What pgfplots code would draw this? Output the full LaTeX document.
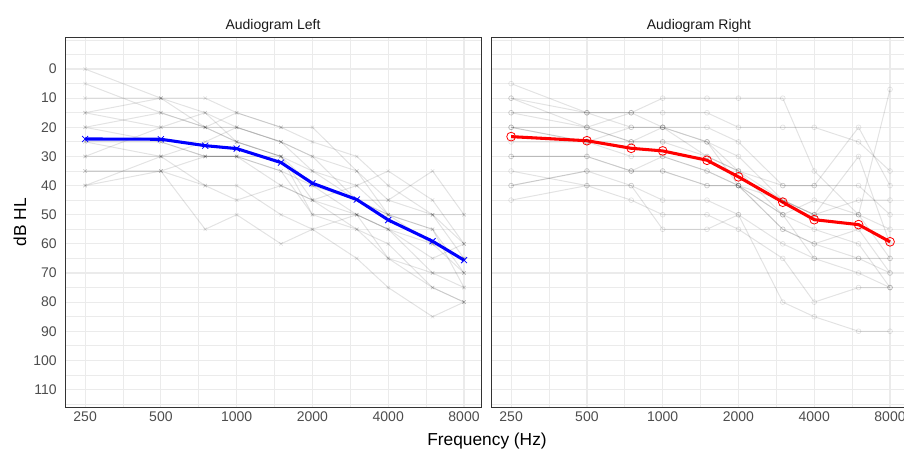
\documentclass[border=0pt]{standalone}
\usepackage{fontspec}
\setmainfont{Liberation Sans}
\usepackage{pgfplots}
\usepackage{pgfplotstable}
\pgfplotsset{compat=1.18}
\definecolor{gridc}{HTML}{EBEBEB}
\definecolor{tickc}{HTML}{4D4D4D}

\pgfplotstableread{
f    s1 s2 s3 s4 s5 s6 s7 s8 s9 s10 s11 s12 s13 s14 s15
250  0  5  10 15 20 25 30 35 40 30  20  25  35  15  40
500  10 15 10 20 25 30 30 35 30 20  15  25  35  10  35
750  15 20 10 20 30 30 40 55 25 15  20  30  40  20  30
1000 20 15 15 25 30 30 40 50 20 25  25  30  45  20  30
1500 25 20 20 30 30 40 50 60 25 30  30  35  40  25  35
2000 30 25 20 35 45 45 55 55 35 40  50  40  45  30  50
3000 35 30 35 40 50 55 65 50 45 50  50  45  40  45  55
4000 45 40 50 50 55 60 75 65 50 55  55  45  35  50  65
6000 50 50 55 60 70 75 85 70 50 60  65  35  45  55  75
8000 60 65 75 70 75 80 80 70 50 65  60  50  60  70  80
}\lefttab

\pgfplotstableread{
f    s1 s2 s3 s4 s5 s6 s7 s8 s9 s10 s11 s12 s13 s14 s15
250  5  10 15 20 20 25 30 35 40 45  30  15  20  40  10
500  15 20 15 25 20 25 30 40 35 40  30  20  25  35  15
750  15 15 20 25 25 30 35 40 40 45  35  25  20  35  15
1000 10 15 20 20 25 30 35 45 55 50  30  25  20  35  20
1500 10 15 20 25 30 35 40 45 55 50  35  25  30  40  25
2000 10 20 25 30 35 40 40 50 50 55  40  40  35  40  35
3000 10 20 40 45 50 55 50 80 60 65  45  55  40  50  45
4000 35 20 40 50 45 60 65 85 65 80  50  60  40  55  50
6000 50 25 20 45 50 65 70 90 65 75  50  55  40  60  30
8000 7  35 40 45 55 70 75 90 65 75  65  70  50  75  60
}\righttab

\pgfplotstableread{
f    m
250  24.0
500  24.1
750  26.3
1000 27.3
1500 32.1
2000 39.2
3000 44.8
4000 51.8
6000 59.1
8000 65.6
}\leftmean

\pgfplotstableread{
f    m
250  23.2
500  24.6
750  27.2
1000 28.1
1500 31.3
2000 37.0
3000 45.7
4000 51.7
6000 53.4
8000 59.3
}\rightmean

\begin{document}
\begin{tikzpicture}
\useasboundingbox (0,0) rectangle (678pt,336.75pt);

\begin{axis}[
    scale only axis, width=312pt, height=277.5pt, anchor=south west,
    at={(48.75pt,31.5pt)},
    xmode=log, xmin=208, xmax=9345,
    ymin=-11, ymax=116, y dir=reverse,
    xtick={250,500,1000,2000,4000,8000},
    xticklabels={250,500,1000,2000,4000,8000},
    minor xtick={353.55,707.11,1414.2,2828.4,5656.9},
    ytick={0,10,20,30,40,50,60,70,80,90,100,110},
    yticklabels={0,10,20,30,40,50,60,70,80,90,100,110},
    minor ytick={-10,-5,5,15,25,35,45,55,65,75,85,95,105,115},
    grid=both,
    major grid style={draw=gridc, line width=0.9pt},
    minor grid style={draw=gridc, line width=0.6pt},
    major tick length=0pt, minor tick length=0pt,
    axis line style={draw=black!80, line width=0.6pt},
    tick label style={font=\fontsize{10.5}{12}\selectfont, text=tickc},
    xticklabel style={anchor=base, yshift=-10.5pt},
    yticklabel style={anchor=east, inner sep=0pt, xshift=-6pt},
    title style={font=\fontsize{10.5}{12}\selectfont, text=black!90, at={(0.5,1)}, anchor=base, yshift=-0.4pt},
    title={Audiogram Left},
]
\pgfplotsinvokeforeach{1,...,15}{
  \addplot[black, opacity=0.11, line width=0.75pt, mark=x, mark size=1.8pt, mark options={line width=0.5pt}] table[x=f, y=s#1] {\lefttab};
}
\addplot[blue, line width=2.3pt, mark=x, mark size=3.2pt, mark options={line width=0.6pt}] table[x=f, y=m] {\leftmean};
\end{axis}

\begin{axis}[
    scale only axis, width=312pt, height=277.5pt, anchor=south west,
    at={(368.25pt,31.5pt)},
    xmode=log, xmin=208, xmax=9345,
    ymin=-11, ymax=116, y dir=reverse,
    xtick={250,500,1000,2000,4000,8000},
    xticklabels={250,500,1000,2000,4000,8000},
    minor xtick={353.55,707.11,1414.2,2828.4,5656.9},
    ytick={0,10,20,30,40,50,60,70,80,90,100,110},
    yticklabels={},
    minor ytick={-10,-5,5,15,25,35,45,55,65,75,85,95,105,115},
    grid=both,
    major grid style={draw=gridc, line width=0.9pt},
    minor grid style={draw=gridc, line width=0.6pt},
    major tick length=0pt, minor tick length=0pt,
    axis line style={draw=black!80, line width=0.6pt},
    tick label style={font=\fontsize{10.5}{12}\selectfont, text=tickc},
    xticklabel style={anchor=base, yshift=-10.5pt},
    title style={font=\fontsize{10.5}{12}\selectfont, text=black!90, at={(0.5,1)}, anchor=base, yshift=-0.4pt},
    title={Audiogram Right},
]
\pgfplotsinvokeforeach{1,...,15}{
  \addplot[black, opacity=0.11, line width=0.75pt, mark=o, mark size=1.8pt, mark options={line width=0.5pt}] table[x=f, y=s#1] {\righttab};
}
\addplot[red, line width=2.3pt, mark=o, mark size=3.3pt, mark options={line width=0.6pt, fill=none}] table[x=f, y=m] {\rightmean};
\end{axis}

\node[anchor=base, font=\fontsize{13}{15}\selectfont] at (365.25pt,2.5pt) {Frequency (Hz)};
\node[rotate=90, font=\fontsize{13}{15}\selectfont] at (15pt,170.25pt) {dB HL};
\end{tikzpicture}
\end{document}
